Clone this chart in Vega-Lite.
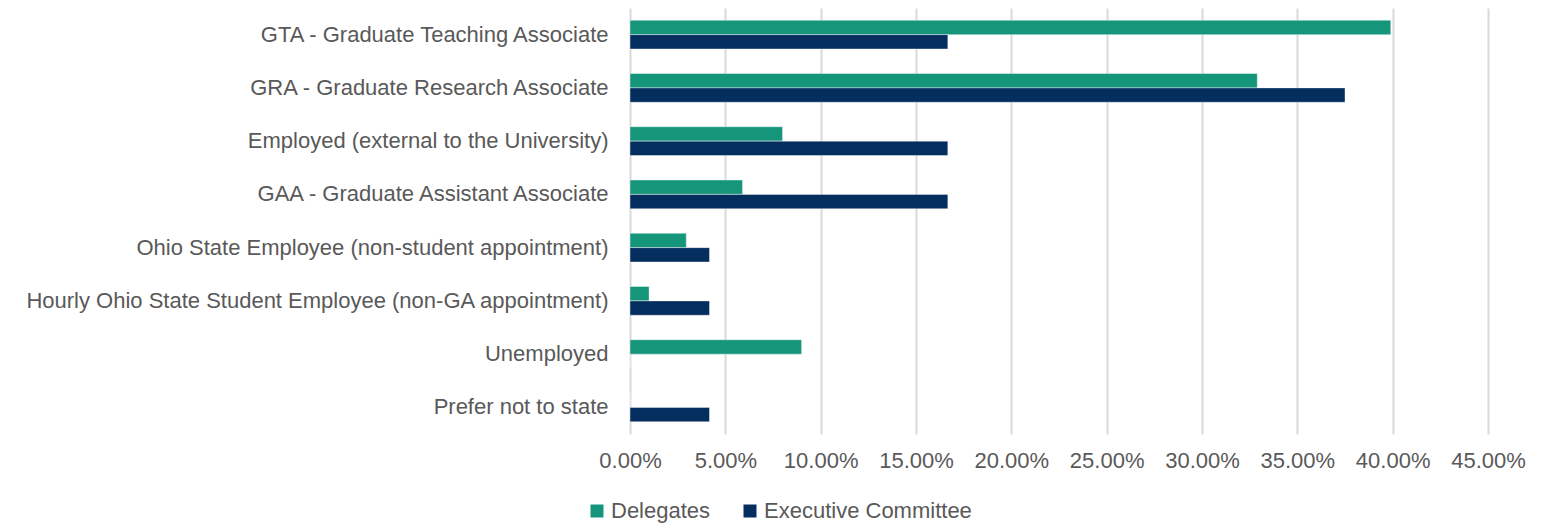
{
  "$schema": "https://vega.github.io/schema/vega-lite/v6.json",
  "autosize": {"type": "none"},
  "padding": {"left": 630, "top": 8, "right": 55, "bottom": 93},
  "width": 858,
  "height": 426,
  "background": "white",
  "config": {
    "view": {"stroke": null},
    "font": "Liberation Sans",
    "axis": {"labelFont": "Liberation Sans", "labelColor": "#595959", "labelFontSize": 22},
    "legend": {"labelFont": "Liberation Sans", "labelColor": "#595959", "labelFontSize": 22}
  },
  "data": {
    "values": [
      {"category": "GTA - Graduate Teaching Associate", "group": "Delegates", "value": 0.399},
      {"category": "GTA - Graduate Teaching Associate", "group": "Executive Committee", "value": 0.1667},
      {"category": "GRA - Graduate Research Associate", "group": "Delegates", "value": 0.329},
      {"category": "GRA - Graduate Research Associate", "group": "Executive Committee", "value": 0.375},
      {"category": "Employed (external to the University)", "group": "Delegates", "value": 0.08},
      {"category": "Employed (external to the University)", "group": "Executive Committee", "value": 0.1667},
      {"category": "GAA - Graduate Assistant Associate", "group": "Delegates", "value": 0.059},
      {"category": "GAA - Graduate Assistant Associate", "group": "Executive Committee", "value": 0.1667},
      {"category": "Ohio State Employee (non-student appointment)", "group": "Delegates", "value": 0.0295},
      {"category": "Ohio State Employee (non-student appointment)", "group": "Executive Committee", "value": 0.0417},
      {"category": "Hourly Ohio State Student Employee (non-GA appointment)", "group": "Delegates", "value": 0.01},
      {"category": "Hourly Ohio State Student Employee (non-GA appointment)", "group": "Executive Committee", "value": 0.0417},
      {"category": "Unemployed", "group": "Delegates", "value": 0.09},
      {"category": "Unemployed", "group": "Executive Committee", "value": 0},
      {"category": "Prefer not to state", "group": "Delegates", "value": 0},
      {"category": "Prefer not to state", "group": "Executive Committee", "value": 0.0417}
    ]
  },
  "mark": {"type": "bar", "stroke": "white", "strokeOpacity": 0.4, "strokeWidth": 1},
  "encoding": {
    "y": {
      "field": "category",
      "type": "nominal",
      "sort": null,
      "title": null,
      "scale": {"paddingInner": 0.46, "paddingOuter": 0.23},
      "axis": {"ticks": false, "domain": false, "labelPadding": 22, "labelLimit": 700}
    },
    "yOffset": {
      "field": "group",
      "type": "nominal",
      "sort": ["Delegates", "Executive Committee"],
      "scale": {"paddingInner": 0, "paddingOuter": 0}
    },
    "x": {
      "field": "value",
      "type": "quantitative",
      "title": null,
      "scale": {"domain": [0, 0.45], "nice": false},
      "axis": {
        "format": ".2%",
        "values": [0, 0.05, 0.1, 0.15, 0.2, 0.25, 0.3, 0.35, 0.4, 0.45],
        "grid": true,
        "gridColor": "#d9d9d9",
        "gridWidth": 2,
        "ticks": false,
        "domain": false,
        "labelPadding": 16,
        "labelFlush": false
      }
    },
    "color": {
      "field": "group",
      "type": "nominal",
      "title": null,
      "scale": {"domain": ["Delegates", "Executive Committee"], "range": ["#15967b", "#042e5e"]},
      "legend": {
        "orient": "none",
        "direction": "horizontal",
        "legendX": -44,
        "legendY": 492,
        "symbolType": "square",
        "symbolSize": 169,
        "symbolStrokeWidth": 0,
        "labelOffset": 3,
        "labelLimit": 400,
        "columnPadding": 28
      }
    }
  }
}
